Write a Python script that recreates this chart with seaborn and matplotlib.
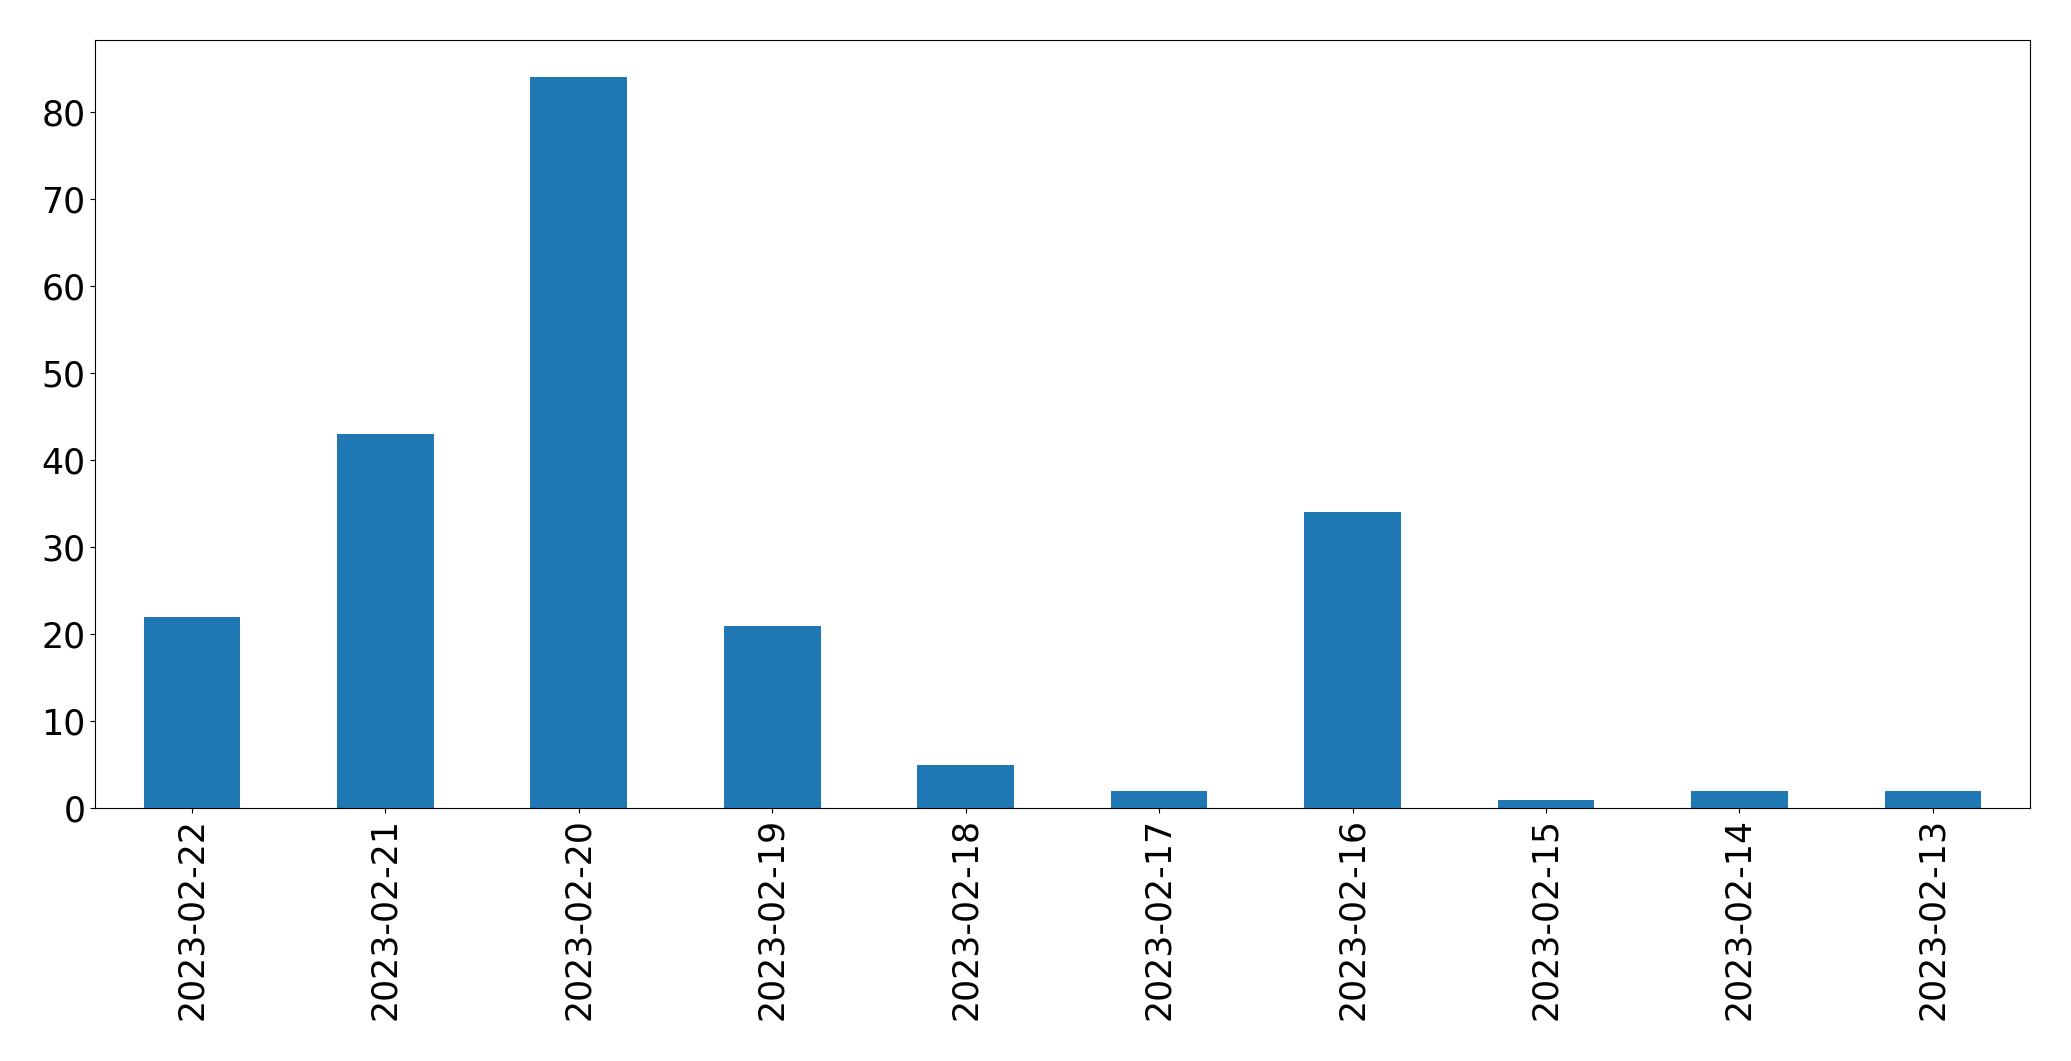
import matplotlib
matplotlib.use("Agg")
import matplotlib.pyplot as plt
import seaborn as sns
import pandas as pd

# daily counts, newest first
dates = ["2023-02-22", "2023-02-21", "2023-02-20", "2023-02-19", "2023-02-18",
         "2023-02-17", "2023-02-16", "2023-02-15", "2023-02-14", "2023-02-13"]
counts = [22, 43, 84, 21, 5, 2, 34, 1, 2, 2]

df = pd.DataFrame({"date": dates, "count": counts})

fig, ax = plt.subplots(figsize=(20.71, 10.61), dpi=100)
sns.barplot(data=df, x="date", y="count", color="#1f77b4", saturation=1,
            width=0.5, linewidth=0, ax=ax, order=dates)

ax.set_xlim(-0.5, len(dates) - 0.5)
ax.set_ylim(0, max(counts) * 1.05)
ax.set_xlabel("")
ax.set_ylabel("")
ax.tick_params(axis="both", labelsize=25)
plt.xticks(rotation=90)

fig.subplots_adjust(left=0.046, right=0.980, top=0.962, bottom=0.238)
fig.savefig("out.png", dpi=100)
